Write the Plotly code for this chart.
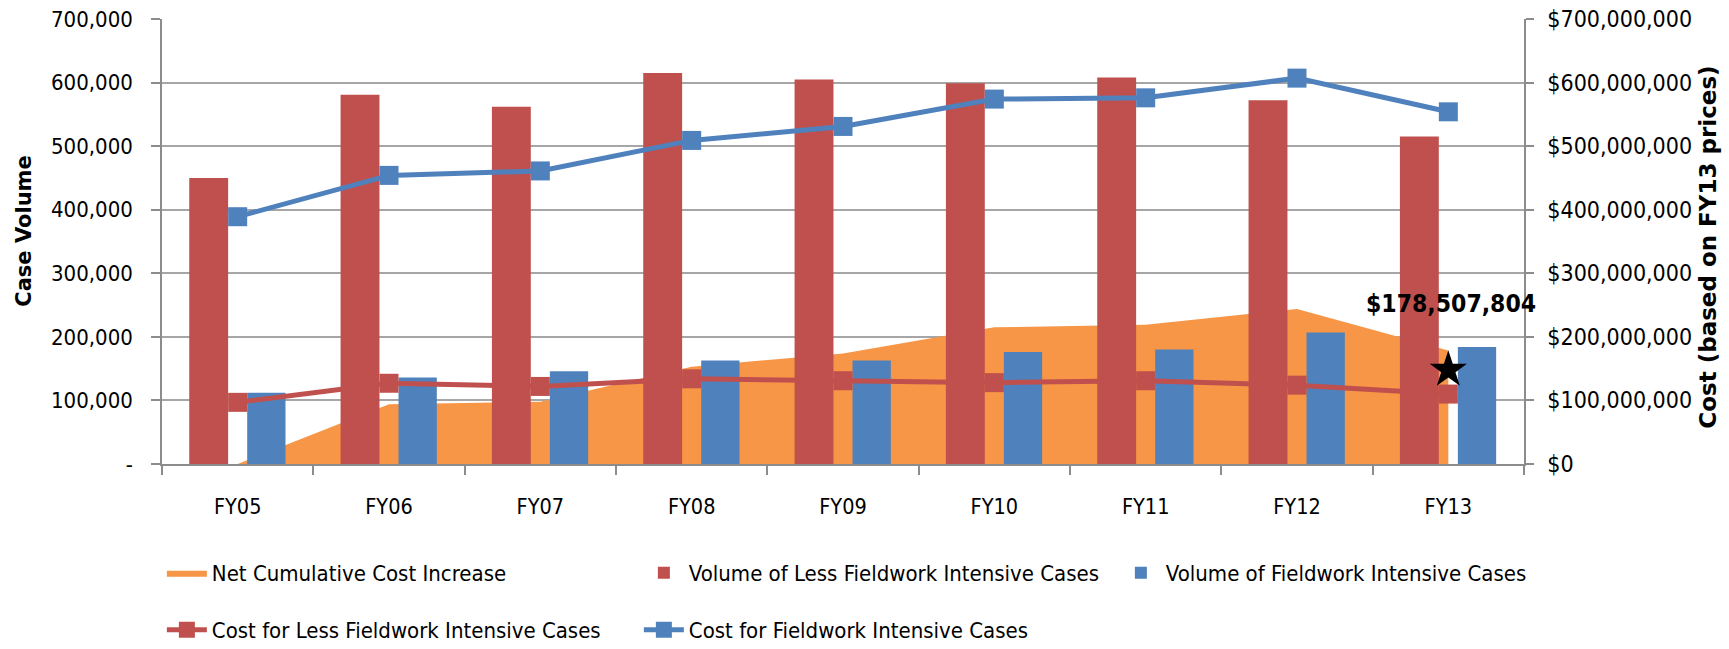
import plotly.graph_objects as go

# ---------------- data ----------------
categories = ["FY05", "FY06", "FY07", "FY08", "FY09", "FY10", "FY11", "FY12", "FY13"]

net_cumulative_cost_increase = [0, 94e6, 98e6, 153e6, 174e6, 215e6, 219e6, 244e6, 178507804]
volume_less_fieldwork = [450000, 581000, 562000, 615000, 605000, 599000, 608000, 572000, 515000]
volume_fieldwork = [112000, 136000, 146000, 163000, 163000, 176000, 180000, 207000, 184000]
cost_less_fieldwork = [97e6, 127e6, 122e6, 134e6, 131e6, 128e6, 131e6, 124e6, 110e6]
cost_fieldwork = [389e6, 454e6, 461e6, 509e6, 531e6, 574e6, 576e6, 607e6, 554e6]

highlight_category = ["FY13"]
highlight_cost = [148e6]

volume_tickvals = [0, 100000, 200000, 300000, 400000, 500000, 600000, 700000]
volume_ticktext = ["-", "100,000", "200,000", "300,000", "400,000", "500,000", "600,000", "700,000"]
cost_tickvals = [0, 100e6, 200e6, 300e6, 400e6, 500e6, 600e6, 700e6]
cost_ticktext = ["$0", "$100,000,000", "$200,000,000", "$300,000,000", "$400,000,000",
                 "$500,000,000", "$600,000,000", "$700,000,000"]

# ---------------- style ----------------
ORANGE = "#F79646"
RED = "#C0504D"
BLUE = "#4F81BD"
GRID = "#A6A6A6"
AXIS = "#8C8C8C"
NARROW = "DejaVu Sans Condensed, Liberation Sans Narrow, sans-serif"
BOLDF = "DejaVu Sans, Verdana, sans-serif"

fig = go.Figure()

# area (bottom layer, primary y = cost scale)
fig.add_trace(go.Scatter(
    x=categories, y=net_cumulative_cost_increase, name="Net Cumulative Cost Increase",
    mode="lines", fill="tozeroy", fillcolor=ORANGE, line=dict(color=ORANGE, width=0),
    yaxis="y", legend="legend"))

# bars (volume scale)
fig.add_trace(go.Bar(
    x=categories, y=volume_less_fieldwork, name="Volume of Less Fieldwork Intensive Cases",
    marker=dict(color=RED, line=dict(width=0)), width=0.257, offset=-0.32,
    yaxis="y2", legend="legend"))
fig.add_trace(go.Bar(
    x=categories, y=volume_fieldwork, name="Volume of Fieldwork Intensive Cases",
    marker=dict(color=BLUE, line=dict(width=0)), width=0.253, offset=0.063,
    yaxis="y2", legend="legend"))

# lines (cost scale, top layer)
fig.add_trace(go.Scatter(
    x=categories, y=cost_less_fieldwork, name="Cost for Less Fieldwork Intensive Cases",
    mode="lines+markers", line=dict(color=RED, width=5),
    marker=dict(symbol="square", size=19, color=RED),
    yaxis="y3", legend="legend2"))
fig.add_trace(go.Scatter(
    x=categories, y=cost_fieldwork, name="Cost for Fieldwork Intensive Cases",
    mode="lines+markers", line=dict(color=BLUE, width=5),
    marker=dict(symbol="square", size=19, color=BLUE),
    yaxis="y3", legend="legend2"))
fig.add_trace(go.Scatter(
    x=highlight_category, y=highlight_cost, mode="markers", showlegend=False,
    marker=dict(symbol="star", size=28, color="black"), yaxis="y3"))

fig.update_layout(
    width=1729, height=649,
    margin=dict(l=162, r=205, t=19, b=185, autoexpand=False),
    paper_bgcolor="white", plot_bgcolor="white",
    barmode="overlay",
    showlegend=True,
    xaxis=dict(
        type="category", range=[-0.5, 8.5], automargin=False,
        showline=True, linecolor=AXIS, linewidth=1.5,
        ticks="outside", tickson="boundaries", ticklen=9, tickcolor=AXIS, tickwidth=1.5,
        ticklabelstandoff=22,
        tickfont=dict(family=NARROW, size=21.5, color="black"),
        showgrid=False,
    ),
    yaxis=dict(
        side="right", range=[0, 700e6], automargin=False,
        tickvals=cost_tickvals, ticktext=cost_ticktext, ticklabeloverflow="allow",
        tickfont=dict(family=NARROW, size=23, color="black"),
        showgrid=True, gridcolor=GRID, gridwidth=1.5,
        showline=True, linecolor=AXIS, linewidth=1.5,
        ticks="outside", ticklen=8, tickcolor=AXIS, tickwidth=1.5,
        ticklabelstandoff=9, zeroline=False,
    ),
    yaxis2=dict(
        overlaying="y", side="left", range=[0, 700000], automargin=False,
        tickvals=volume_tickvals, ticktext=volume_ticktext, ticklabeloverflow="allow",
        tickfont=dict(family=NARROW, size=22, color="black"),
        showgrid=False,
        showline=True, linecolor=AXIS, linewidth=1.5,
        ticks="outside", ticklen=9, tickcolor=AXIS, tickwidth=1.5,
        ticklabelstandoff=14, zeroline=False,
    ),
    yaxis3=dict(overlaying="y", side="right", range=[0, 700e6], visible=False),
    legend=dict(
        orientation="h", x=-0.0001, y=-0.245, xanchor="left", yanchor="middle",
        font=dict(family=NARROW, size=22, color="black"),
        entrywidth=422, entrywidthmode="pixels", itemwidth=40,
        bgcolor="rgba(0,0,0,0)", traceorder="normal",
    ),
    legend2=dict(
        orientation="h", x=-0.0001, y=-0.373, xanchor="left", yanchor="middle",
        font=dict(family=NARROW, size=22, color="black"),
        entrywidth=422, entrywidthmode="pixels", itemwidth=40,
        bgcolor="rgba(0,0,0,0)", traceorder="normal",
    ),
    annotations=[
        dict(text="Case Volume", xref="paper", yref="paper", x=-0.1013, y=0.522,
             xanchor="center", yanchor="middle", textangle=-90, showarrow=False,
             font=dict(family=BOLDF, size=21, color="black", weight="bold")),
        dict(text="Cost (based on FY13 prices)", xref="paper", yref="paper", x=1.135, y=0.488,
             xanchor="center", yanchor="middle", textangle=-90, showarrow=False,
             font=dict(family=BOLDF, size=23, color="black", weight="bold")),
        dict(text="${:,.0f}".format(net_cumulative_cost_increase[-1]),
             x=categories[-1], y=net_cumulative_cost_increase[-1], xref="x", yref="y",
             yshift=47, xshift=3, showarrow=False, xanchor="center", yanchor="middle",
             font=dict(family=NARROW, size=24.5, color="black", weight="bold")),
    ],
)

fig.write_html("out.html", config={"displayModeBar": False},
               post_script="document.body.style.margin='0px';")
